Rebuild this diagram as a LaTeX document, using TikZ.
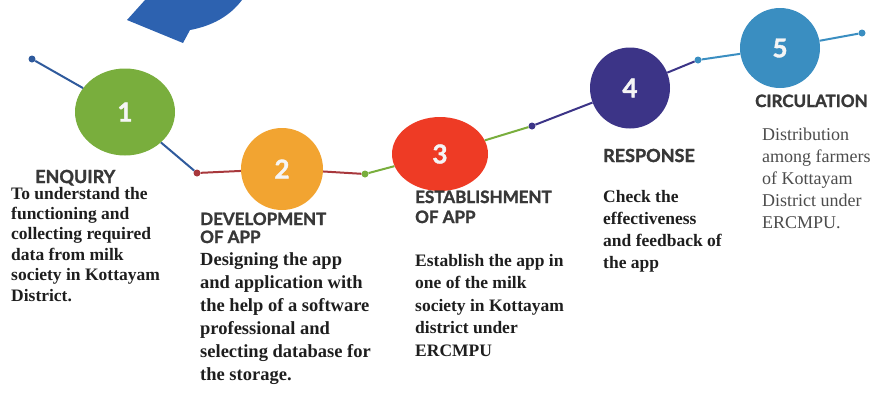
\documentclass[tikz,border=0pt]{standalone}
\usepackage{fontspec}
\setmainfont{Liberation Serif}
\newfontfamily\headfont[BoldFeatures={FakeBold=1.6}]{Lato}
\usepackage{tikz}
\usetikzlibrary{shapes, calc, positioning}
\definecolor{stepgreen}{HTML}{79AE3D}
\definecolor{steporange}{HTML}{F2A431}
\definecolor{stepred}{HTML}{EE3B25}
\definecolor{steppurple}{HTML}{3C3487}
\definecolor{stepblue}{HTML}{3A8EC1}
\definecolor{linkblue}{HTML}{2F5A9C}
\definecolor{linkred}{HTML}{A8383C}
\definecolor{pinblue}{HTML}{2D62B0}
\definecolor{headgray}{HTML}{383838}
\definecolor{textgray}{HTML}{1E1E1E}
\tikzstyle{stepnode}=[
    ellipse,        % round body of each step
    inner sep=0pt,  % keep the number centred
    text=white!92!gray,
    font=\headfont\bfseries\fontsize{26}{26}\selectfont]
\tikzstyle{dotnode}=[
    circle,         % small joint on the line
    inner sep=0pt,
    minimum size=7pt]
\tikzstyle{headnode}=[
    anchor=base west, % placed by the baseline of the last line
    inner sep=0pt,
    align=left,
    text=headgray,
    font=\headfont\bfseries\fontsize{17}{19}\selectfont]
\tikzstyle{textnode}=[
    anchor=base west, % placed by the baseline of the last line
    inner sep=0pt,
    align=left,
    text=textgray,
    font=\bfseries\fontsize{17.5}{22.5}\selectfont]
\tikzstyle{linkline}=[line width=2pt]

\begin{document}
\begin{tikzpicture}[x=1pt, y=-1pt]
        \useasboundingbox (0,0) rectangle (883,392);
        % Blue shape at the top
        \fill[pinblue] (127,20) -- (145,0) -- (242,0) .. controls (230,16) and (212,26) .. (190,30) -- (183,43) -- cycle;

        % Draw the steps.
        \node[stepnode, fill=stepgreen, minimum width=100pt, minimum height=87pt] (c1) at (125,112) {1};
        \node[stepnode, fill=steporange, minimum width=82pt, minimum height=82pt] (c2) at (282,169) {2};
        \node[stepnode, fill=stepred, minimum width=96pt, minimum height=74pt] (c3) at (440,154) {3};
        \node[stepnode, fill=steppurple, minimum width=80pt, minimum height=81pt] (c4) at (630,88) {4};
        \node[stepnode, fill=stepblue, minimum width=80pt, minimum height=80pt] (c5) at (780,48) {5};

        % Draw the joints.
        \node[dotnode, fill=linkblue] (d0) at (32,59) {};
        \node[dotnode, fill=linkred] (d1) at (197,173) {};
        \node[dotnode, fill=stepgreen] (d2) at (365,174) {};
        \node[dotnode, fill=steppurple] (d3) at (532,126) {};
        \node[dotnode, fill=stepblue] (d4) at (698,60) {};
        \node[dotnode, fill=stepblue] (d5) at (862,33) {};

        % Connect steps and joints
        \path[linkline, linkblue] (d0) edge (c1);
        \path[linkline, linkblue] (c1) edge (d1);
        \path[linkline, linkred] (d1) edge (c2);
        \path[linkline, linkred] (c2) edge (d2);
        \path[linkline, stepgreen] (d2) edge (c3);
        \path[linkline, stepgreen] (c3) edge (d3);
        \path[linkline, steppurple] (d3) edge (c4);
        \path[linkline, steppurple] (c4) edge (d4);
        \path[linkline, stepblue] (d4) edge (c5);
        \path[linkline, stepblue] (c5) edge (d5);

        % Titles
        \node[headnode, font=\headfont\bfseries\fontsize{18}{19}\selectfont] (h1) at (35,183) {ENQUIRY};
        \node[headnode, font=\headfont\bfseries\fontsize{17}{18}\selectfont] (h2) at (200,243) {DEVELOPMENT\\OF APP};
        \node[headnode, font=\headfont\bfseries\fontsize{17}{20}\selectfont] (h3) at (415,223) {ESTABLISHMENT\\OF APP};
        \node[headnode, font=\headfont\bfseries\fontsize{18}{19}\selectfont] (h4) at (603,162) {RESPONSE};
        \node[headnode] (h5) at (755,107) {CIRCULATION};

        % Descriptions
        \node[textnode, font=\bfseries\fontsize{17.5}{20.4}\selectfont] (t1) at (11,301)
            {To understand the\\functioning and\\collecting required\\data from milk\\society in Kottayam\\District.};
        \node[textnode, font=\bfseries\fontsize{18.5}{23}\selectfont] (t2) at (200,380)
            {Designing the app\\and application with\\the help of a software\\professional and\\selecting database for\\the storage.};
        \node[textnode] (t3) at (415,356)
            {Establish the app in\\one of the milk\\society in Kottayam\\district under\\ERCMPU};
        \node[textnode, font=\bfseries\fontsize{17.5}{22}\selectfont] (t4) at (603,268)
            {Check the\\effectiveness\\and feedback of\\the app};
        \node[textnode, text=gray!60!black, font=\fontsize{18}{22}\selectfont] (t5) at (762,228)
            {Distribution\\among farmers\\of Kottayam\\District under\\ERCMPU.};
\end{tikzpicture}
\end{document}
